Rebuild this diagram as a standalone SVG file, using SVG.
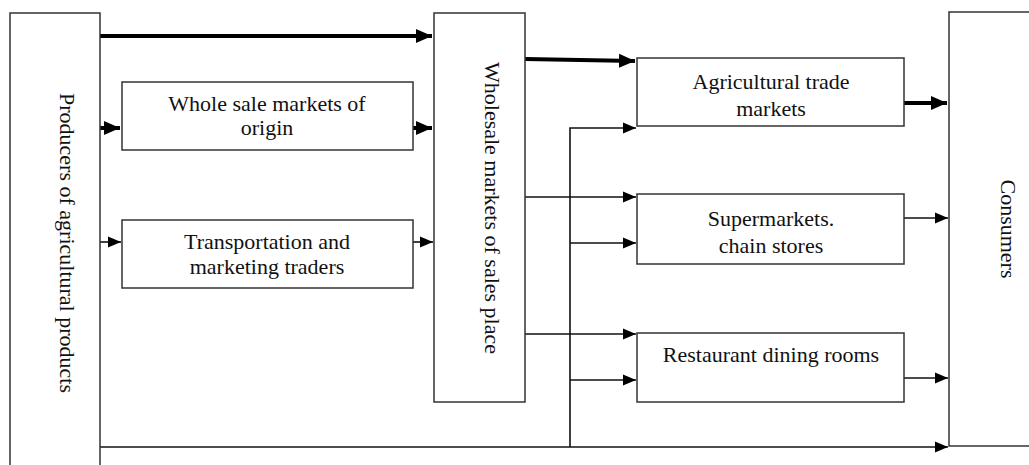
<svg xmlns="http://www.w3.org/2000/svg" width="1029" height="465" viewBox="0 0 1029 465">
<defs>
<style>
.box{fill:#fff;stroke:#333;stroke-width:1.5}
.lbl{font-family:"Liberation Serif","Times New Roman",serif;font-size:22px;fill:#111;text-anchor:middle}
.thin{fill:none;stroke:#111;stroke-width:1.6}
.thick{fill:none;stroke:#000;stroke-width:4}
</style>
<marker id="ah" markerUnits="userSpaceOnUse" markerWidth="14" markerHeight="14" viewBox="0 0 14 14" refX="13" refY="7" orient="auto">
<path d="M0,1.5 L13,7 L0,12.5 Z" fill="#000"/>
</marker>
<marker id="ahb" markerUnits="userSpaceOnUse" markerWidth="18" markerHeight="18" viewBox="0 0 18 18" refX="16" refY="9" orient="auto">
<path d="M0,2 L16,9 L0,16 Z" fill="#000"/>
</marker>
</defs>
<rect width="1029" height="465" fill="#fff"/>
<g id="connectors">
<path class="thick" d="M100,36 H432" marker-end="url(#ahb)"/>
<path class="thick" d="M100,128 H120" marker-end="url(#ahb)"/>
<path class="thick" d="M413,128 H432" marker-end="url(#ahb)"/>
<path class="thin" d="M100,242 H121" marker-end="url(#ah)"/>
<path class="thin" d="M413,242 H433" marker-end="url(#ah)"/>
<path class="thick" d="M525,59 L635,61" marker-end="url(#ahb)"/>
<path class="thin" d="M570,447 V128 H636" marker-end="url(#ah)"/>
<path class="thin" d="M525,197 H636" marker-end="url(#ah)"/>
<path class="thin" d="M570,243 H636" marker-end="url(#ah)"/>
<path class="thin" d="M525,334 H636" marker-end="url(#ah)"/>
<path class="thin" d="M570,380 H636" marker-end="url(#ah)"/>
<path class="thick" d="M904,103 H947" marker-end="url(#ahb)"/>
<path class="thin" d="M904,218 H948" marker-end="url(#ah)"/>
<path class="thin" d="M904,378 H948" marker-end="url(#ah)"/>
<path class="thin" d="M100,447 H948" marker-end="url(#ah)"/>
</g>
<g id="producers">
<rect class="box" x="10" y="13" width="90" height="470"/>
<text class="lbl" transform="translate(60,243) rotate(90)">Producers of agricultural products</text>
</g>
<g id="wholesale-origin">
<rect class="box" x="122" y="82" width="291" height="68"/>
<text class="lbl" x="267" y="111">Whole sale markets of</text>
<text class="lbl" x="267" y="135">origin</text>
</g>
<g id="transport-traders">
<rect class="box" x="122" y="220" width="291" height="68"/>
<text class="lbl" x="267" y="249">Transportation and</text>
<text class="lbl" x="267" y="274">marketing traders</text>
</g>
<g id="wholesale-sales">
<rect class="box" x="434" y="13" width="91" height="389"/>
<text class="lbl" transform="translate(485,208) rotate(90)">Wholesale markets of sales place</text>
</g>
<g id="agri-trade">
<rect class="box" x="637" y="58" width="267" height="68"/>
<text class="lbl" x="771" y="89">Agricultural trade</text>
<text class="lbl" x="771" y="116">markets</text>
</g>
<g id="supermarkets">
<rect class="box" x="637" y="194" width="267" height="70"/>
<text class="lbl" x="771" y="226">Supermarkets.</text>
<text class="lbl" x="771" y="253">chain stores</text>
</g>
<g id="restaurant">
<rect class="box" x="637" y="333" width="267" height="69"/>
<text class="lbl" x="771" y="362">Restaurant dining rooms</text>
</g>
<g id="consumers">
<rect class="box" x="949" y="12" width="100" height="434"/>
<text class="lbl" transform="translate(1001,229) rotate(90)">Consumers</text>
</g>
</svg>
